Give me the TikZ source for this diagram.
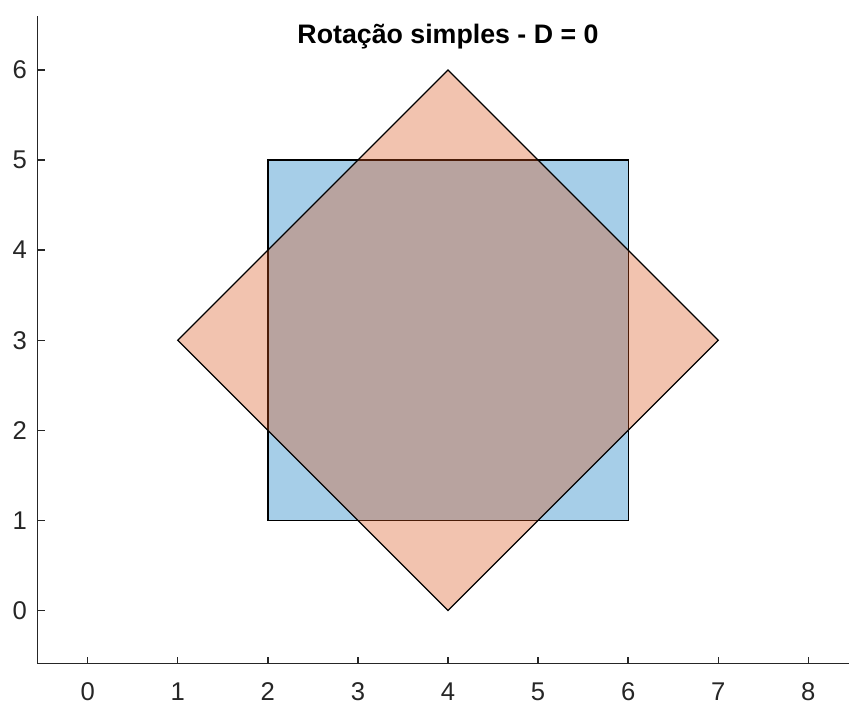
\documentclass[tikz,border=0pt]{standalone}
\usepackage{fontspec}
\setmainfont{Liberation Sans}
\definecolor{axgray}{rgb}{0.15,0.15,0.15}
\definecolor{mblue}{rgb}{0,0.447,0.741}
\definecolor{morange}{rgb}{0.85,0.325,0.098}
\begin{document}
\begin{tikzpicture}[x=1cm,y=1cm,
  axisline/.style={draw=axgray,line width=0.45pt},
  ticklab/.style={text=axgray,font=\fontsize{8.1pt}{9pt}\selectfont,inner sep=0pt},
  sq/.style={fill=mblue,fill opacity=0.35,draw=black,line width=0.42pt,line join=miter},
  dia/.style={fill=morange,fill opacity=0.35,draw=black,line width=0.42pt,line join=miter}]
\useasboundingbox (-0.9736,-1.0405) rectangle (8.4516,6.7774);
% shapes
\path[sq] (2,1) -- (6,1) -- (6,5) -- (2,5) -- cycle;
\path[dia] (4,0) -- (7,3) -- (4,6) -- (1,3) -- cycle;
% axes
\coordinate (o) at (-0.557,-0.589);
\coordinate (xe) at (8.46,-0.589);
\coordinate (ye) at (-0.557,6.6);
\draw[axisline] (xe) -- (o) -- (ye);
\foreach \i in {0,...,8}{
  \draw[axisline] (\i,-0.589) -- (\i,-0.511);
  \node[ticklab,anchor=center] (xl\i) at (\i,-0.904) {\i};
}
\foreach \j in {0,...,6}{
  \draw[axisline] (-0.557,\j) -- (-0.479,\j);
  \node[ticklab,anchor=center] (yl\j) at (-0.755,\j) {\j};
}
\node[text=black,inner sep=0pt,anchor=base,font=\bfseries\fontsize{8.45pt}{9pt}\selectfont] (title) at (4.0,6.289) {Rotação simples - D = 0};
\end{tikzpicture}
\end{document}
